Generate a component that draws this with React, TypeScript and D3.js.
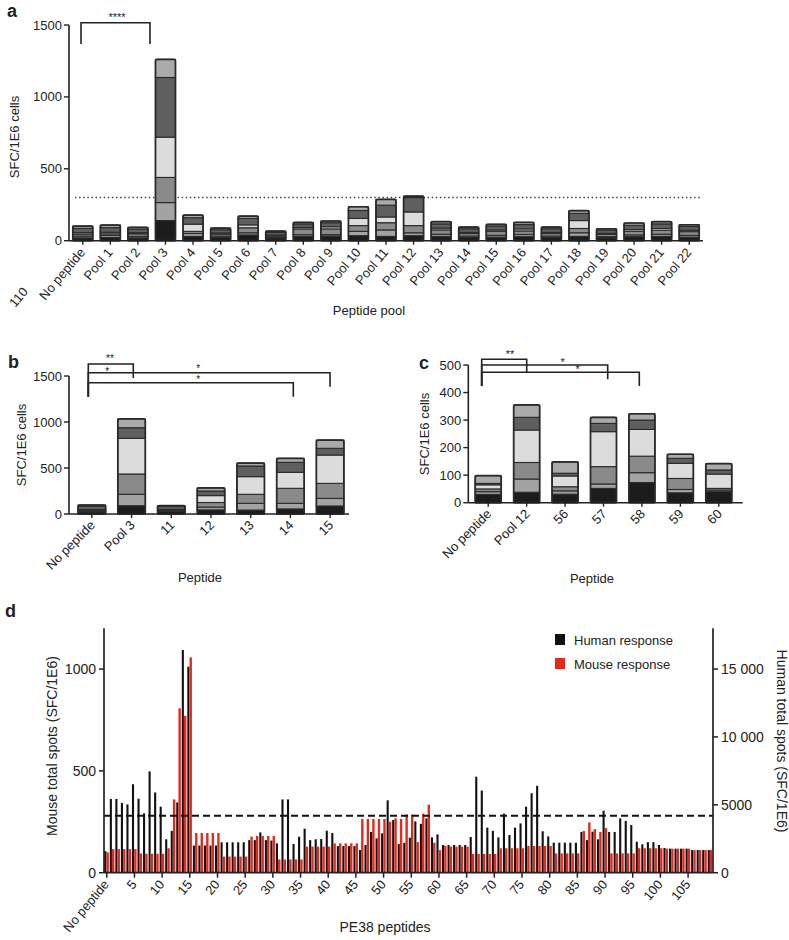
import React from "react";
import * as d3 from "d3";

const FONT = "'Liberation Sans', Arial, Helvetica, sans-serif";
const INK = "#222";
const SEG_COLORS = ["#1c1c1c", "#a3a3a3", "#8a8a8a", "#dcdcdc", "#5f5f5f", "#aaaaaa"];
const HUMAN_COLOR = "#111111";
const MOUSE_COLOR = "#e4291c";

// ---------- Panel a: peptide pools (six donors stacked) ----------
const poolCategories = [
  "No peptide", "Pool 1", "Pool 2", "Pool 3", "Pool 4", "Pool 5", "Pool 6", "Pool 7",
  "Pool 8", "Pool 9", "Pool 10", "Pool 11", "Pool 12", "Pool 13", "Pool 14", "Pool 15",
  "Pool 16", "Pool 17", "Pool 18", "Pool 19", "Pool 20", "Pool 21", "Pool 22",
];
const poolDonor1 = [20, 22, 20, 140, 30, 22, 40, 15, 30, 32, 35, 30, 35, 30, 22, 25, 28, 22, 30, 20, 28, 30, 25];
const poolDonor2 = [12, 14, 10, 125, 20, 10, 15, 8, 12, 10, 30, 45, 20, 15, 10, 12, 15, 10, 25, 8, 12, 15, 12];
const poolDonor3 = [14, 12, 18, 175, 15, 14, 35, 10, 40, 40, 40, 50, 50, 30, 18, 28, 25, 18, 30, 16, 25, 28, 26];
const poolDonor4 = [10, 11, 8, 280, 50, 8, 20, 6, 10, 15, 50, 40, 95, 12, 8, 10, 14, 8, 55, 7, 12, 12, 10];
const poolDonor5 = [30, 32, 25, 415, 45, 22, 45, 18, 25, 28, 55, 82, 100, 30, 25, 27, 30, 25, 50, 22, 30, 32, 26];
const poolDonor6 = [16, 18, 12, 126, 18, 12, 16, 10, 10, 12, 26, 40, 10, 15, 12, 12, 15, 12, 19, 10, 16, 15, 12];
const poolYTicks = [0, 500, 1000, 1500];
const poolThreshold = 300;

// ---------- Panel b: Pool 3 peptides ----------
const pool3Categories = ["No peptide", "Pool 3", "11", "12", "13", "14", "15"];
const pool3Donor1 = [22, 90, 30, 45, 43, 55, 87];
const pool3Donor2 = [8, 124, 6, 30, 73, 61, 83];
const pool3Donor3 = [10, 221, 8, 50, 98, 163, 163];
const pool3Donor4 = [8, 387, 6, 75, 192, 174, 308];
const pool3Donor5 = [38, 116, 32, 50, 116, 109, 73];
const pool3Donor6 = [12, 95, 8, 33, 32, 43, 90];
const pool3YTicks = [0, 500, 1000, 1500];

// ---------- Panel c: Pool 12 peptides ----------
const pool12Categories = ["No peptide", "Pool 12", "56", "57", "58", "59", "60"];
const pool12Donor1 = [30, 38, 31, 52, 73, 36, 40];
const pool12Donor2 = [10, 48, 12, 16, 36, 12, 6];
const pool12Donor3 = [10, 60, 15, 63, 60, 40, 6];
const pool12Donor4 = [15, 118, 39, 127, 97, 55, 52];
const pool12Donor5 = [5, 46, 10, 30, 34, 18, 15];
const pool12Donor6 = [28, 45, 41, 22, 23, 15, 23];
const pool12YTicks = [0, 100, 200, 300, 400, 500];

// ---------- Panel d: PE38 peptides, human vs mouse ----------
const peptideIds = d3.range(110);
const humanResponse = [
  1590, 5430, 5430, 5130, 5030, 6510, 5450, 4370, 7460, 5910,
  4860, 2460, 3080, 5180, 16400, 15170, 2000, 2000, 2000, 2000,
  2000, 2240, 2240, 2240, 2240, 2240, 2400, 2400, 2970, 2400,
  2370, 2160, 5400, 5400, 2110, 2650, 3240, 2400, 2460, 2480,
  3090, 2920, 1960, 1960, 1960, 1960, 1670, 2040, 3000, 2530,
  2900, 5330, 3880, 2110, 2200, 2580, 3780, 3600, 4000, 2600,
  2820, 2040, 2040, 2040, 2040, 2040, 2630, 7070, 6050, 3320,
  3080, 2600, 4350, 2780, 3320, 3630, 4860, 5850, 6400, 3050,
  2670, 2210, 2210, 2210, 2210, 2210, 3000, 2400, 3020, 2460,
  4560, 3000, 3000, 4000, 3810, 3510, 2280, 2090, 2250, 2250,
  2040, 1820, 1770, 1770, 1770, 1770, 1670, 1670, 1670, 1670,
];
const mouseResponse = [
  100, 116, 116, 116, 116, 116, 95, 93, 93, 93,
  93, 120, 360, 807, 769, 1057, 195, 195, 195, 195,
  195, 79, 79, 79, 79, 79, 177, 180, 180, 180,
  180, 65, 65, 65, 65, 65, 128, 128, 128, 128,
  128, 144, 144, 144, 144, 144, 264, 264, 264, 264,
  264, 250, 267, 264, 286, 286, 150, 290, 334, 147,
  111, 131, 128, 128, 128, 128, 92, 92, 92, 92,
  92, 120, 120, 120, 120, 120, 131, 131, 131, 131,
  131, 95, 95, 95, 95, 95, 205, 247, 214, 200,
  219, 95, 95, 95, 95, 95, 120, 120, 120, 120,
  120, 118, 118, 118, 118, 118, 111, 111, 111, 111,
];
const peptideTickIds = [0, 5, 10, 15, 20, 25, 30, 35, 40, 45, 50, 55, 60, 65, 70, 75, 80, 85, 90, 95, 100, 105];
const peptideTickLabels = ["No peptide", "5", "10", "15", "20", "25", "30", "35", "40", "45", "50", "55", "60", "65", "70", "75", "80", "85", "90", "95", "100", "105"];
const mouseYTicks = [0, 500, 1000];
const humanYTicks = [0, 5000, 10000, 15000];
const humanYTickLabels = ["0", "5000", "10 000", "15 000"];
const mouseThreshold = 280;

type StackProps = {
  cats: string[];
  donors: number[][];
  xRange: [number, number];
  axisX: number;
  axisEnd: number;
  yMax: number;
  yBottom: number;
  yTop: number;
  yTicks: number[];
  barW: number;
  rot: number;
  labelDx: number;
  labelDy: number;
};

function StackedPanel(p: StackProps) {
  const x = d3.scaleBand<string>().domain(p.cats).range(p.xRange);
  const y = d3.scaleLinear().domain([0, p.yMax]).range([p.yBottom, p.yTop]);
  const keys = p.donors.map((_, k) => "k" + k);
  const rows = p.cats.map((c, i) => {
    const r: any = { cat: c };
    p.donors.forEach((d, k) => (r["k" + k] = d[i]));
    return r;
  });
  const series = d3.stack<any>().keys(keys)(rows);
  const totals = p.cats.map((_, i) => d3.sum(p.donors, (d) => d[i]));
  const cx = (c: string) => (x(c) as number) + x.bandwidth() / 2;
  return (
    <g>
      {series.map((s, k) =>
        s.map((d, i) => (
          <rect
            key={`s${k}-${i}`}
            x={cx(p.cats[i]) - p.barW / 2}
            y={y(d[1])}
            width={p.barW}
            height={Math.max(0, y(d[0]) - y(d[1]))}
            fill={SEG_COLORS[k]}
            stroke="#2a2a2a"
            strokeWidth={1.1}
          />
        ))
      )}
      {p.cats.map((c, i) => (
        <rect
          key={`o${i}`}
          x={cx(c) - p.barW / 2}
          y={y(totals[i])}
          width={p.barW}
          height={y(0) - y(totals[i])}
          rx={2}
          fill="none"
          stroke="#2a2a2a"
          strokeWidth={1.7}
        />
      ))}
      <line x1={p.axisX} x2={p.axisX} y1={p.yTop} y2={p.yBottom} stroke={INK} strokeWidth={1.6} />
      <line x1={p.axisX} x2={p.axisEnd} y1={p.yBottom} y2={p.yBottom} stroke={INK} strokeWidth={1.6} />
      {p.yTicks.map((t) => (
        <g key={`yt${t}`}>
          <line x1={p.axisX - 5} x2={p.axisX} y1={y(t)} y2={y(t)} stroke={INK} strokeWidth={1.4} />
          <text x={p.axisX - 7} y={y(t)} dy="0.35em" textAnchor="end" fontSize={13} fill={INK}>
            {t}
          </text>
        </g>
      ))}
      {p.cats.map((c) => (
        <g key={`xt${c}`}>
          <line x1={cx(c)} x2={cx(c)} y1={p.yBottom} y2={p.yBottom + 4} stroke={INK} strokeWidth={1.4} />
          <text
            transform={`translate(${cx(c) + p.labelDx},${p.yBottom + p.labelDy}) rotate(${p.rot})`}
            textAnchor="end"
            fontSize={13}
            fill={INK}
          >
            {c}
          </text>
        </g>
      ))}
    </g>
  );
}

function Bracket({ x1, x2, y, l1, l2 }: { x1: number; x2: number; y: number; l1: number; l2: number }) {
  return (
    <path
      d={`M${x1},${l1} V${y} H${x2} V${l2}`}
      fill="none"
      stroke={INK}
      strokeWidth={1.6}
    />
  );
}

function PanelD() {
  const x = d3.scaleBand<number>().domain(peptideIds).range([104, 713]);
  const yM = d3.scaleLinear().domain([0, 1200]).range([872.7, 628.3]);
  const yH = d3.scaleLinear().domain([0, 18000]).range([872.7, 628.3]);
  const cx = (i: number) => (x(i) as number) + x.bandwidth() / 2;
  const axisL = 104;
  const axisR = 713;
  const base = yM(0);
  return (
    <g>
      {peptideIds.map((id, i) => (
        <rect
          key={`h${id}`}
          x={cx(id) - 2.5}
          y={yH(humanResponse[i])}
          width={2.1}
          height={base - yH(humanResponse[i])}
          fill={HUMAN_COLOR}
        />
      ))}
      {peptideIds.map((id, i) => (
        <rect
          key={`m${id}`}
          x={cx(id) - 0.3}
          y={yM(mouseResponse[i])}
          width={2.4}
          height={base - yM(mouseResponse[i])}
          fill={MOUSE_COLOR}
        />
      ))}
      <line
        x1={axisL}
        x2={axisR}
        y1={yM(mouseThreshold)}
        y2={yM(mouseThreshold)}
        stroke="#111"
        strokeWidth={2}
        strokeDasharray="7 4"
      />
      <line x1={axisL} x2={axisL} y1={628.3} y2={base} stroke={INK} strokeWidth={1.7} />
      <line x1={axisR} x2={axisR} y1={628.3} y2={base} stroke={INK} strokeWidth={1.7} />
      <line x1={axisL} x2={axisR} y1={base} y2={base} stroke={INK} strokeWidth={1.7} />
      {mouseYTicks.map((t) => (
        <g key={`ml${t}`}>
          <line x1={axisL - 5} x2={axisL} y1={yM(t)} y2={yM(t)} stroke={INK} strokeWidth={1.5} />
          <text x={axisL - 8} y={yM(t)} dy="0.35em" textAnchor="end" fontSize={14} fill={INK}>
            {t}
          </text>
        </g>
      ))}
      {humanYTicks.map((t, i) => (
        <g key={`hr${t}`}>
          <line x1={axisR} x2={axisR + 5} y1={yH(t)} y2={yH(t)} stroke={INK} strokeWidth={1.5} />
          <text x={axisR + 8} y={yH(t)} dy="0.35em" textAnchor="start" fontSize={14} fill={INK}>
            {humanYTickLabels[i]}
          </text>
        </g>
      ))}
      {peptideTickIds.map((id, i) => (
        <g key={`pt${id}`}>
          <line x1={cx(id)} x2={cx(id)} y1={base} y2={base + 5} stroke={INK} strokeWidth={1.5} />
          <text
            transform={`translate(${cx(id) + 3},${base + 12}) rotate(-50)`}
            textAnchor="end"
            fontSize={13}
            fill={INK}
          >
            {peptideTickLabels[i]}
          </text>
        </g>
      ))}
      <text x={385} y={932} textAnchor="middle" fontSize={14} fill={INK}>
        PE38 peptides
      </text>
      <text transform="translate(57,746) rotate(-90)" textAnchor="middle" fontSize={14} fill={INK}>
        Mouse total spots (SFC/1E6)
      </text>
      <text transform="translate(777,741) rotate(90)" textAnchor="middle" fontSize={14} fill={INK}>
        Human total spots (SFC/1E6)
      </text>
      <rect x={555} y={634} width={10} height={11} fill={HUMAN_COLOR} />
      <text x={574} y={640} dy="0.35em" fontSize={13} fill={INK}>
        Human response
      </text>
      <rect x={555} y={658} width={10} height={11} fill={MOUSE_COLOR} />
      <text x={574} y={664} dy="0.35em" fontSize={13} fill={INK}>
        Mouse response
      </text>
    </g>
  );
}

export default function App() {
  const yA = d3.scaleLinear().domain([0, 1500]).range([240.7, 25]);
  return (
    <svg
      width={789}
      height={940}
      viewBox="0 0 789 940"
      style={{ position: "absolute", left: 0, top: 0, background: "#fff" }}
      fontFamily={FONT}
    >
      <rect x={0} y={0} width={789} height={940} fill="#fff" />
      {/* Panel a */}
      <text x={7} y={17} fontSize={18} fontWeight="bold" fill={INK}>a</text>
      <line x1={75} x2={700} y1={yA(poolThreshold)} y2={yA(poolThreshold)} stroke="#444" strokeWidth={1.5} strokeDasharray="1.5 2.6" />
      <StackedPanel
        cats={poolCategories}
        donors={[poolDonor1, poolDonor2, poolDonor3, poolDonor4, poolDonor5, poolDonor6]}
        xRange={[69, 703]}
        axisX={69}
        axisEnd={703}
        yMax={1500}
        yBottom={240.7}
        yTop={25}
        yTicks={poolYTicks}
        barW={20}
        rot={-50}
        labelDx={3}
        labelDy={12}
      />
      <Bracket x1={81} x2={150} y={22.7} l1={44} l2={44} />
      <text x={117} y={21} textAnchor="middle" fontSize={11} fill={INK}>****</text>
      <text transform="translate(14,137) rotate(-90)" dy="0.35em" textAnchor="middle" fontSize={13} fill={INK}>
        SFC/1E6 cells
      </text>
      <text x={369} y={315} textAnchor="middle" fontSize={13} fill={INK}>Peptide pool</text>
      <text transform="translate(22,300) rotate(-50)" textAnchor="middle" fontSize={13} fill={INK}>110</text>

      {/* Panel b */}
      <text x={8} y={368} fontSize={18} fontWeight="bold" fill={INK}>b</text>
      <StackedPanel
        cats={pool3Categories}
        donors={[pool3Donor1, pool3Donor2, pool3Donor3, pool3Donor4, pool3Donor5, pool3Donor6]}
        xRange={[72, 350]}
        axisX={69}
        axisEnd={349}
        yMax={1500}
        yBottom={514}
        yTop={376}
        yTicks={pool3YTicks}
        barW={27.5}
        rot={-45}
        labelDx={4}
        labelDy={12}
      />
      <Bracket x1={88.3} x2={133.3} y={364} l1={396.7} l2={378} />
      <Bracket x1={88.3} x2={330} y={372.7} l1={396.7} l2={386.7} />
      <Bracket x1={88.3} x2={293.3} y={382.7} l1={396.7} l2={396.7} />
      <text x={110} y={362} textAnchor="middle" fontSize={10} fill={INK}>**</text>
      <text x={107.3} y={375} textAnchor="middle" fontSize={10} fill={INK}>*</text>
      <text x={198.3} y={371.5} textAnchor="middle" fontSize={10} fill={INK}>*</text>
      <text x={198.3} y={382.5} textAnchor="middle" fontSize={10} fill={INK}>*</text>
      <text transform="translate(21,445) rotate(-90)" dy="0.35em" textAnchor="middle" fontSize={13} fill={INK}>
        SFC/1E6 cells
      </text>
      <text x={200} y={582} textAnchor="middle" fontSize={13} fill={INK}>Peptide</text>

      {/* Panel c */}
      <text x={419} y={369} fontSize={18} fontWeight="bold" fill={INK}>c</text>
      <StackedPanel
        cats={pool12Categories}
        donors={[pool12Donor1, pool12Donor2, pool12Donor3, pool12Donor4, pool12Donor5, pool12Donor6]}
        xRange={[469, 738]}
        axisX={468.3}
        axisEnd={742.7}
        yMax={500}
        yBottom={502.7}
        yTop={365}
        yTicks={pool12YTicks}
        barW={26}
        rot={-45}
        labelDx={4}
        labelDy={12}
      />
      <Bracket x1={481.7} x2={526.7} y={359.3} l1={386} l2={372.7} />
      <Bracket x1={481.7} x2={607.7} y={365} l1={386} l2={379.3} />
      <Bracket x1={481.7} x2={639.3} y={372.3} l1={386} l2={386} />
      <text x={510} y={358} textAnchor="middle" fontSize={11} fill={INK}>**</text>
      <text x={562.7} y={366} textAnchor="middle" fontSize={11} fill={INK}>*</text>
      <text x={577.7} y={373} textAnchor="middle" fontSize={11} fill={INK}>*</text>
      <text transform="translate(424,434) rotate(-90)" dy="0.35em" textAnchor="middle" fontSize={13} fill={INK}>
        SFC/1E6 cells
      </text>
      <text x={592} y={583} textAnchor="middle" fontSize={13} fill={INK}>Peptide</text>

      {/* Panel d */}
      <text x={5} y={617} fontSize={18} fontWeight="bold" fill={INK}>d</text>
      <PanelD />
    </svg>
  );
}
